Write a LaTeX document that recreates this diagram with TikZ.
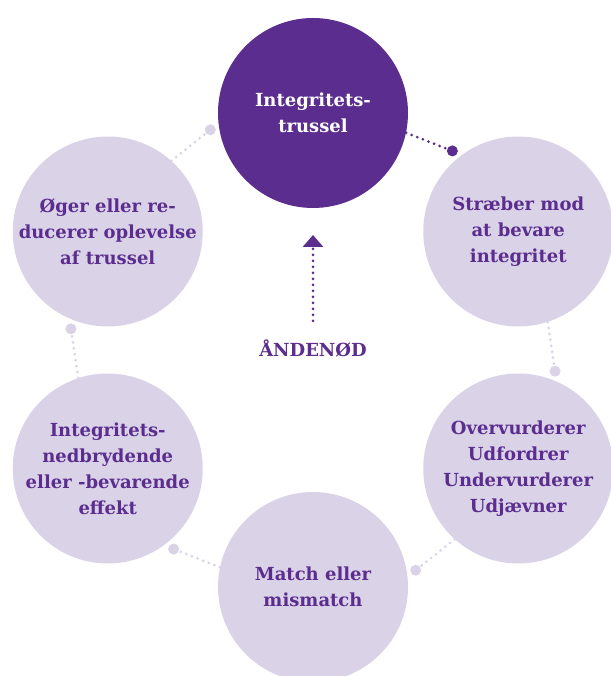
\documentclass[tikz,border=0pt]{standalone}
\usepackage{fontspec}
\setmainfont{DejaVu Serif}
\usepackage{tikz}
\usetikzlibrary{arrows.meta, positioning, calc}
\definecolor{crisispurple}{HTML}{5B2D8E}
\definecolor{crisislilac}{HTML}{DAD3E8}

\begin{document}
\begin{tikzpicture}[
  x=1pt, y=1pt,
  font=\bfseries\fontsize{18}{26}\selectfont,
  stagebox/.style={
    circle, fill=crisislilac, text=crisispurple, minimum size=190pt,
    align=center, inner sep=0pt
  },
  threatbox/.style={stagebox, fill=crisispurple, text=white},
  bead/.style={circle, fill=crisislilac, minimum size=11pt, inner sep=0pt},
  darkbead/.style={bead, fill=crisispurple},
  link/.style={draw=crisislilac, line width=3pt, line cap=round, dash pattern=on 0pt off 6pt},
  darklink/.style={link, draw=crisispurple},
  pointer/.style={darklink, -{Triangle[width=20pt,length=12pt]}},
]
\useasboundingbox (-313,-326) rectangle (297,350);

% Six stages around the ring, clockwise from the top
\node[threatbox] (threat) at (90:237) {Integritets-\\trussel};
\node[stagebox] (strive) at (30:237) {Stræber mod\\at bevare\\integritet};
\node[stagebox] (judge) at (-30:237) {Overvurderer\\Udfordrer\\Undervurderer\\Udjævner};
\node[stagebox] (match) at (-90:237) {Match eller\\mismatch};
\node[stagebox] (effect) at (-150:237) {Integritets-\\nedbrydende\\eller -bevarende\\effekt};
\node[stagebox] (perceive) at (150:237) {Øger eller re-\\ducerer oplevelse\\af trussel};

% Beads in front of the next stage
\node[darkbead] (b1) at (55:243) {};
\node[bead] (b2) at (-5:243) {};
\node[bead] (b3) at (-65:243) {};
\node[bead] (b4) at (-125:243) {};
\node[bead] (b5) at (175:243) {};
\node[bead] (b6) at (115:243) {};

% Dotted links between stages
\draw[darklink] (threat.-12) -- (b1);
\draw[link] (strive.-72) -- (b2);
\draw[link] (judge.-132) -- (b3);
\draw[link] (match.168) -- (b4);
\draw[link] (effect.108) -- (b5);
\draw[link] (perceive.48) -- (b6);

% Centre label pointing up to the threat
\node[text=crisispurple] (crisis) at (0,2) {ÅNDENØD};
\coordinate (tip) at (0,115);
\draw[pointer] ([yshift=15pt]crisis.north) -- (tip);
\end{tikzpicture}
\end{document}
